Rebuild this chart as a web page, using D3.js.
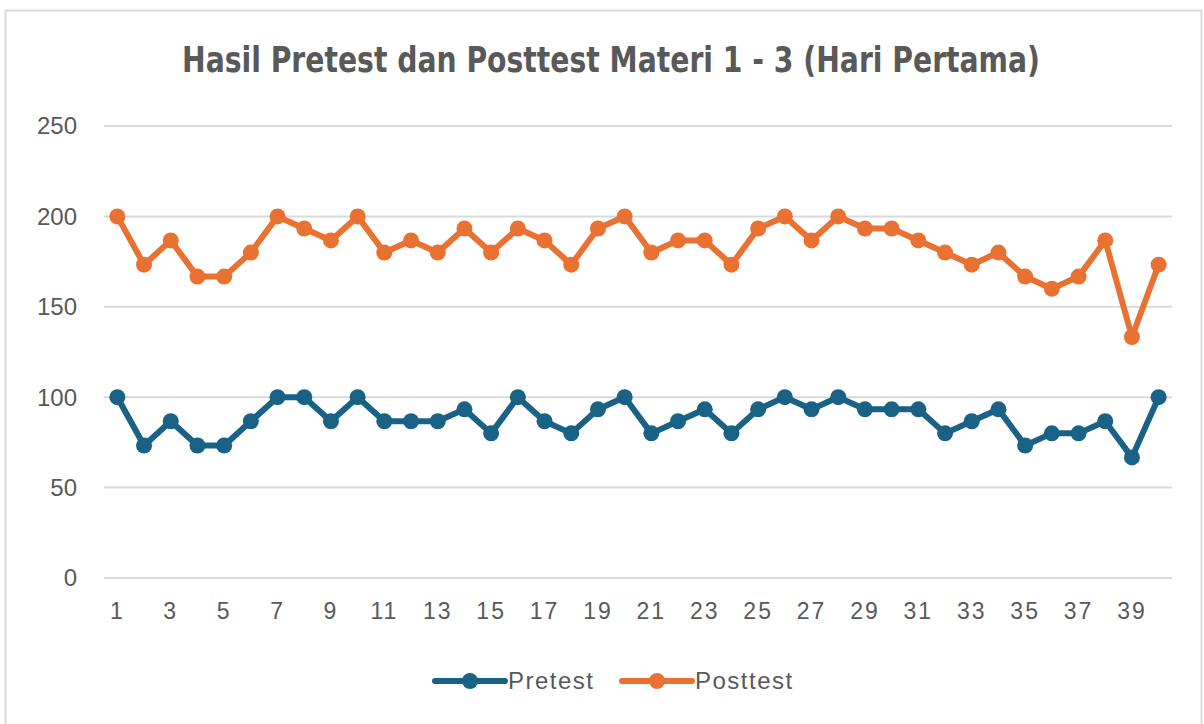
<!DOCTYPE html>
<html>
<head>
<meta charset="utf-8">
<script src="https://cdn.jsdelivr.net/npm/d3@7"></script>
<style>
  html, body { margin: 0; padding: 0; background: #fff; }
  svg { display: block; }
</style>
</head>
<body>
<svg></svg>
<script>
const WIDTH = 1204;
const HEIGHT = 724;

const TITLE = "Hasil Pretest dan Posttest Materi 1 - 3 (Hari Pertama)";
const categories = d3.range(1, 41);
const yTicks = [0, 50, 100, 150, 200, 250];
const seriesNames = ["Pretest", "Posttest"];
const seriesColors = ["#196286", "#e97132"];

const pretest = [
    100, 73.3, 86.7, 73.3, 73.3, 86.7, 100, 100, 86.7, 100,
    86.7, 86.7, 86.7, 93.3, 80, 100, 86.7, 80, 93.3, 100,
    80, 86.7, 93.3, 80, 93.3, 100, 93.3, 100, 93.3, 93.3,
    93.3, 80, 86.7, 93.3, 73.3, 80, 80, 86.7, 66.7, 100
];
const posttest = [
    200, 173.3, 186.7, 166.7, 166.7, 180, 200, 193.3, 186.7, 200,
    180, 186.7, 180, 193.3, 180, 193.3, 186.7, 173.3, 193.3, 200,
    180, 186.7, 186.7, 173.3, 193.3, 200, 186.7, 200, 193.3, 193.3,
    186.7, 180, 173.3, 180, 166.7, 160, 166.7, 186.7, 133.3, 173.3
];

function drawChart(svg) {
    const plot = { left: 104, right: 1172, top: 126, bottom: 578 };
    const font = "'Liberation Sans', Arial, sans-serif";
    const textColor = "#595959";

    svg.attr("width", WIDTH).attr("height", HEIGHT);

    // chart frame
    svg.append("rect")
        .attr("x", 5.5).attr("y", 10.5)
        .attr("width", 1196).attr("height", 730)
        .attr("fill", "#fff")
        .attr("stroke", "#d9d9d9")
        .attr("stroke-width", 2);

    // title is squeezed to look like a narrow face
    svg.append("text")
        .attr("x", 611).attr("y", 72)
        .attr("text-anchor", "middle")
        .attr("textLength", 858)
        .attr("lengthAdjust", "spacingAndGlyphs")
        .style("font-family", "'DejaVu Sans Condensed', 'Liberation Sans', sans-serif")
        .style("font-weight", "bold")
        .style("font-size", "36px")
        .style("fill", textColor)
        .text(TITLE);

    const x = d3.scaleBand()
        .domain(categories)
        .range([plot.left, plot.right]);

    const y = d3.scaleLinear()
        .domain([0, 250])
        .range([plot.bottom, plot.top]);

    // gridlines
    svg.append("g")
        .selectAll("line")
        .data(yTicks)
        .enter().append("line")
        .attr("x1", plot.left).attr("x2", plot.right)
        .attr("y1", d => y(d)).attr("y2", d => y(d))
        .style("stroke", "#d9d9d9")
        .style("stroke-width", "2px");

    // y labels
    svg.append("g")
        .selectAll("text")
        .data(yTicks)
        .enter().append("text")
        .attr("x", 77)
        .attr("y", d => y(d))
        .attr("dy", "0.35em")
        .attr("text-anchor", "end")
        .style("font-family", font)
        .style("font-size", "24px")
        .style("fill", textColor)
        .text(d => d);

    // x labels, every other category
    svg.append("g")
        .selectAll("text")
        .data(categories.filter(d => d % 2 === 1))
        .enter().append("text")
        .attr("x", d => x(d) + x.bandwidth() / 2)
        .attr("y", 619)
        .attr("text-anchor", "middle")
        .style("font-family", font)
        .style("font-size", "23px")
        .style("letter-spacing", "2px")
        .style("fill", textColor)
        .text(d => d);

    const line = d3.line()
        .x((d, i) => x(categories[i]) + x.bandwidth() / 2)
        .y(d => y(d));

    [pretest, posttest].forEach((values, s) => {
        const g = svg.append("g");
        g.append("path")
            .datum(values)
            .attr("d", line)
            .style("fill", "none")
            .style("stroke", seriesColors[s])
            .style("stroke-width", "6px")
            .style("stroke-linejoin", "round");
        g.selectAll("circle")
            .data(values)
            .enter().append("circle")
            .attr("cx", (d, i) => x(categories[i]) + x.bandwidth() / 2)
            .attr("cy", d => y(d))
            .attr("r", 8)
            .style("fill", seriesColors[s]);
    });

    // legend
    const legendX = [435, 622];
    const legend = svg.append("g")
        .selectAll("g")
        .data(seriesNames)
        .enter().append("g")
        .attr("transform", (d, i) => `translate(${legendX[i]}, 681)`);

    legend.append("line")
        .attr("x1", 0).attr("x2", 70)
        .style("stroke", (d, i) => seriesColors[i])
        .style("stroke-width", "6px")
        .style("stroke-linecap", "round");
    legend.append("circle")
        .attr("cx", 35).attr("r", 8)
        .style("fill", (d, i) => seriesColors[i]);
    legend.append("text")
        .attr("x", 73)
        .attr("dy", "0.35em")
        .style("font-family", font)
        .style("font-size", "24px")
        .style("letter-spacing", "1.5px")
        .style("fill", textColor)
        .text(d => d);
}

drawChart(d3.select("svg"));
</script>
</body>
</html>
